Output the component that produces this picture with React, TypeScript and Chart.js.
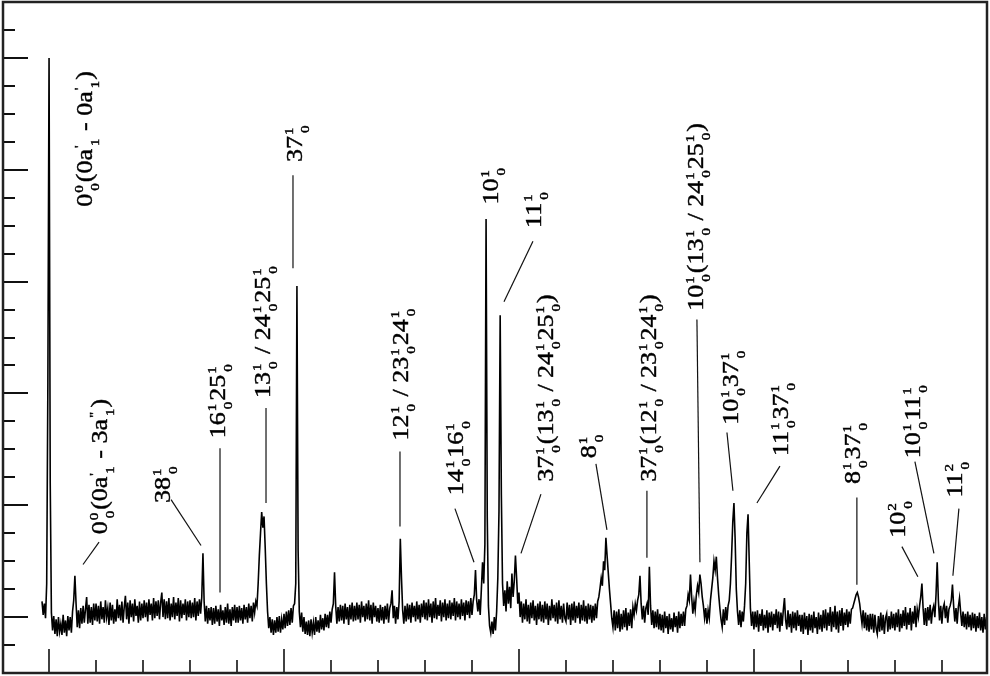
import { useEffect, useRef } from "react";
import { Chart, registerables } from "chart.js";

Chart.register(...registerables);

// Spectrum sampling (relative wavenumber, cm-1)
const SPEC_START = -15;
const SPEC_STEP = 2.5;
// Intensity values (arbitrary units, origin band = 5); one row = 50 cm-1
const spectrum: number[] = [
  0.14, 0.02, 0.12, -0.01, 0.30, 2.10,
  5.00, 1.20, 0.04, -0.12, 0.01, -0.15, -0.02, -0.17, 0.00, -0.13, -0.06, -0.16, 0.02, -0.14, -0.03, -0.17, 0.01, -0.12, 0.00, -0.14,
  0.05, 0.15, 0.37, 0.12, -0.09, 0.06, -0.10, 0.08, -0.06, 0.10, -0.05, 0.07, 0.18, -0.06, 0.11, -0.05, 0.09, -0.07, 0.12, -0.03,
  0.12, -0.04, 0.10, -0.06, 0.14, -0.02, 0.09, -0.05, 0.15, 0.00, 0.08, -0.07, 0.13, -0.03, 0.11, -0.06, 0.07, -0.04, 0.16, -0.01,
  0.11, -0.03, 0.14, -0.05, 0.09, 0.19, -0.02, 0.13, -0.06, 0.15, 0.00, 0.12, -0.04, 0.16, 0.01, 0.10, -0.05, 0.14, -0.03, 0.12,
  -0.01, 0.15, 0.00, 0.13, -0.04, 0.16, 0.02, 0.12, -0.03, 0.17, -0.01, 0.14, 0.01, 0.15, -0.02, 0.13, 0.22, 0.00, 0.16, -0.02,
  0.14, -0.01, 0.17, -0.03, 0.12, 0.00, 0.18, -0.02, 0.13, 0.01, 0.17, -0.04, 0.15, -0.01, 0.12, 0.02, 0.16, -0.03, 0.14, 0.00,
  0.15, -0.01, 0.13, 0.00, 0.17, -0.03, 0.14, 0.01, 0.16, 0.03, 0.18, 0.57, 0.14, -0.04, 0.10, -0.06, 0.08, -0.03, 0.09, -0.07,
  0.08, -0.06, 0.10, -0.04, 0.07, -0.08, 0.11, -0.03, 0.06, -0.07, 0.09, -0.05, 0.12, -0.06, 0.07, -0.08, 0.09, -0.03, 0.11, -0.05,
  0.09, -0.05, 0.10, -0.03, 0.08, -0.06, 0.11, -0.02, 0.09, -0.05, 0.12, -0.01, 0.10, -0.04, 0.13, 0.04, 0.14, 0.10, 0.30, 0.55,
  0.75, 0.94, 0.80, 0.90, 0.62, 0.30, 0.05, -0.10, 0.00, -0.14, -0.02, -0.16, -0.03, -0.14, 0.00, -0.13, 0.01, -0.14, -0.02, -0.11,
  0.03, -0.10, 0.05, -0.08, 0.06, -0.07, 0.08, -0.05, 0.10, 0.12, 0.30, 2.96, 0.60, 0.05, -0.09, 0.04, -0.13, 0.00, -0.15, -0.04,
  -0.16, -0.03, -0.17, -0.02, -0.14, -0.05, -0.16, 0.00, -0.13, -0.03, -0.14, 0.02, -0.11, -0.01, -0.12, 0.03, -0.09, 0.02, -0.10, 0.05,
  -0.05, 0.07, 0.12, 0.40, 0.10, -0.06, 0.09, -0.04, 0.11, -0.03, 0.10, -0.06, 0.12, -0.02, 0.09, -0.07, 0.11, -0.02, 0.13, -0.04,
  0.10, -0.03, 0.13, -0.02, 0.11, -0.05, 0.14, 0.00, 0.10, -0.04, 0.12, -0.02, 0.15, -0.03, 0.11, -0.06, 0.13, 0.00, 0.10, -0.04,
  0.08, -0.05, 0.11, -0.03, 0.09, -0.06, 0.10, -0.02, 0.12, -0.05, 0.08, 0.12, 0.24, -0.01, 0.10, -0.06, 0.09, -0.02, 0.14, 0.70,
  0.35, 0.06, -0.06, 0.10, -0.04, 0.12, -0.02, 0.11, -0.05, 0.13, 0.00, 0.10, -0.04, 0.14, -0.02, 0.11, -0.05, 0.12, 0.00, 0.15,
  -0.02, 0.13, -0.03, 0.16, 0.00, 0.12, -0.05, 0.14, -0.01, 0.17, -0.02, 0.11, 0.01, 0.15, -0.04, 0.13, 0.00, 0.16, -0.03, 0.12,
  -0.01, 0.15, -0.02, 0.13, 0.01, 0.17, -0.03, 0.14, 0.00, 0.12, -0.02, 0.16, 0.01, 0.13, -0.03, 0.15, 0.02, 0.14, -0.01, 0.17,
  0.02, 0.14, 0.20, 0.42, 0.15, 0.05, 0.16, 0.02, 0.25, 0.49, 0.30, 0.65, 3.56, 0.90, 0.10, -0.08, -0.14, -0.04, -0.15, 0.00,
  -0.12, 0.05, 0.35, 0.95, 2.70, 1.10, 0.30, 0.10, 0.24, 0.05, 0.32, 0.12, 0.27, 0.08, 0.39, 0.18, 0.32, 0.55, 0.35, 0.12,
  0.22, 0.00, 0.14, -0.05, 0.12, -0.02, 0.16, -0.04, 0.11, -0.06, 0.13, -0.01, 0.15, -0.03, 0.10, -0.07, 0.12, -0.02, 0.14, -0.04,
  0.11, -0.05, 0.14, -0.02, 0.12, -0.07, 0.10, -0.03, 0.16, -0.01, 0.11, -0.04, 0.13, -0.06, 0.15, -0.02, 0.10, -0.05, 0.12, -0.01,
  -0.04, 0.13, -0.02, 0.11, -0.07, 0.12, -0.03, 0.14, -0.05, 0.10, -0.01, 0.13, -0.06, 0.11, -0.03, 0.15, -0.04, 0.10, -0.06, 0.12,
  -0.02, 0.11, -0.05, 0.10, -0.03, 0.12, -0.01, 0.14, 0.18, 0.26, 0.35, 0.28, 0.50, 0.42, 0.71, 0.55, 0.40, 0.25, 0.12, -0.01,
  -0.09, 0.06, -0.12, 0.05, -0.10, 0.07, -0.13, 0.03, -0.11, 0.06, -0.09, 0.08, -0.12, 0.04, -0.08, 0.07, -0.10, 0.09, 0.02, 0.12,
  0.06, 0.15, 0.20, 0.37, 0.12, -0.02, 0.10, -0.05, 0.08, 0.12, 0.02, 0.45, 0.10, -0.07, 0.06, -0.10, 0.05, -0.09, 0.07, -0.11,
  0.03, -0.12, 0.02, -0.14, 0.05, -0.10, 0.01, -0.15, 0.03, -0.11, -0.01, -0.13, 0.04, -0.09, 0.01, -0.14, 0.05, -0.10, 0.03, -0.08,
  0.05, -0.08, 0.07, 0.10, 0.20, 0.15, 0.38, 0.18, 0.03, 0.14, 0.06, 0.20, 0.28, 0.22, 0.38, 0.30, 0.18, 0.10, -0.01, 0.08,
  -0.06, 0.06, -0.01, 0.15, 0.25, 0.35, 0.50, 0.42, 0.54, 0.35, 0.20, 0.08, -0.02, -0.09, 0.07, -0.07, 0.09, -0.03, 0.10, 0.15,
  0.30, 0.55, 0.85, 1.02, 0.70, 0.25, 0.05, -0.07, 0.06, -0.09, 0.05, -0.04, 0.10, 0.30, 0.75, 0.92, 0.50, 0.08, -0.08, 0.05,
  -0.11, 0.05, -0.09, 0.06, -0.13, 0.03, -0.08, 0.07, -0.12, 0.02, -0.10, 0.06, -0.14, 0.04, -0.09, 0.05, -0.12, 0.03, -0.07, 0.07,
  -0.10, 0.05, -0.13, 0.04, -0.08, 0.06, 0.17, -0.03, -0.11, 0.06, -0.09, 0.03, -0.14, 0.05, -0.10, 0.04, -0.12, 0.06, -0.08, 0.02,
  -0.13, 0.02, -0.15, 0.04, -0.11, 0.01, -0.16, 0.03, -0.12, 0.02, -0.14, 0.05, -0.10, 0.00, -0.15, 0.04, -0.11, 0.02, -0.13, 0.06,
  -0.10, 0.07, -0.12, 0.04, -0.08, 0.09, -0.13, 0.05, -0.09, 0.10, -0.11, 0.05, -0.14, 0.06, -0.08, 0.08, -0.12, 0.04, -0.07, 0.07,
  -0.09, 0.05, -0.06, 0.07, 0.08, 0.12, 0.16, 0.20, 0.22, 0.18, 0.12, 0.03, -0.06, 0.06, -0.10, 0.04, -0.12, 0.02, -0.13, 0.03,
  -0.11, 0.03, -0.14, 0.02, -0.10, -0.15, 0.01, -0.13, 0.04, -0.12, 0.02, -0.15, -0.01, 0.03, -0.13, 0.01, -0.11, 0.05, -0.10, 0.03,
  -0.12, 0.04, -0.09, 0.07, -0.13, 0.03, -0.10, 0.06, -0.08, 0.09, -0.11, 0.04, -0.07, 0.08, -0.12, 0.05, -0.06, 0.10, -0.09, 0.07,
  0.00, 0.10, 0.18, 0.30, 0.08, -0.07, 0.08, -0.08, 0.09, -0.03, 0.11, -0.06, 0.06, 0.10, 0.00, 0.20, 0.49, 0.15, -0.03, 0.10,
  -0.06, 0.08, 0.12, -0.01, 0.10, -0.05, 0.07, 0.10, 0.15, 0.29, 0.10, -0.04, 0.08, -0.06, 0.09, 0.17, 0.04, -0.08, 0.05, -0.09,
  0.03, -0.11, 0.05, -0.09, 0.02, -0.12, 0.04, -0.10, 0.03, -0.13, 0.01, -0.10, 0.04, -0.12, 0.00, -0.14, 0.03, -0.11, 0.00, -0.10,
];

// Axis ranges and tick spacing
const X_MIN = -98;
const X_MAX = 1996;
const Y_MIN = -0.5;
const Y_MAX = 5.5;
const X_MINOR = 100;
const X_MAJOR = 500;
const Y_MINOR = 0.25;
const Y_MAJOR = 1;

// Band assignments (^{..} superscript, _{..} subscript)
const labelTexts: string[] = [
  "0^{0}_{0}(0a^{'}_{1} - 0a^{'}_{1})",
  "0^{0}_{0}(0a^{'}_{1} - 3a^{\"}_{1})",
  "38^{1}_{0}",
  "16^{1}_{0}25^{1}_{0}",
  "13^{1}_{0} / 24^{1}_{0}25^{1}_{0}",
  "37^{1}_{0}",
  "12^{1}_{0} / 23^{1}_{0}24^{1}_{0}",
  "14^{1}_{0}16^{1}_{0}",
  "10^{1}_{0}",
  "11^{1}_{0}",
  "37^{1}_{0}(13^{1}_{0} / 24^{1}_{0}25^{1}_{0})",
  "8^{1}_{0}",
  "37^{1}_{0}(12^{1}_{0} / 23^{1}_{0}24^{1}_{0})",
  "10^{1}_{0}(13^{1}_{0} / 24^{1}_{0}25^{1}_{0})",
  "10^{1}_{0}37^{1}_{0}",
  "11^{1}_{0}37^{1}_{0}",
  "8^{1}_{0}37^{1}_{0}",
  "10^{2}_{0}",
  "10^{1}_{0}11^{1}_{0}",
  "11^{2}_{0}",
];
// Label anchor (text baseline start) in data units
const labelX: number[] = [91.5, 123.4, 257.4, 374.5, 470.2, 538.3, 763.8, 880.9, 955.3, 1046.8, 1072.3, 1163.8, 1291.5, 1391.5, 1466.0, 1572.3, 1725.5, 1821.3, 1853.2, 1942.6];
const labelY: number[] = [3.67, 0.74, 1.02, 1.60, 1.96, 4.07, 1.58, 1.09, 3.69, 3.48, 1.21, 1.42, 1.21, 2.74, 1.72, 1.44, 1.19, 0.71, 1.42, 1.07];
// Leader lines [x1, y1, x2, y2] in data units
const leaders: (number[] | null)[] = [
  null,
  [72.3, 0.47, 106.4, 0.67],
  [259.6, 1.05, 323.4, 0.64],
  [363.8, 1.51, 363.8, 0.22],
  [461.7, 1.87, 461.7, 1.02],
  [519.1, 3.95, 519.1, 3.12],
  [746.8, 1.48, 746.8, 0.81],
  [863.8, 0.97, 904.3, 0.49],
  null,
  [1029.8, 3.36, 968.1, 2.82],
  [1046.8, 1.10, 1004.3, 0.57],
  [1163.8, 1.37, 1187.2, 0.78],
  [1272.3, 1.13, 1272.3, 0.53],
  [1378.7, 2.66, 1385.1, 0.49],
  [1442.6, 1.65, 1455.3, 1.13],
  [1555.3, 1.35, 1506.4, 1.02],
  [1719.1, 1.07, 1719.1, 0.29],
  [1814.9, 0.63, 1848.9, 0.36],
  [1842.6, 1.39, 1883.0, 0.57],
  [1936.2, 0.97, 1923.4, 0.37],
];

const FONT_FAMILY = '"Liberation Serif", "Times New Roman", serif';
const FONT_SIZE = 26;
const SCRIPT_SIZE = 15;
const GLYPH_HEIGHT_SCALE = 0.85;

type Part = { t?: string; sup?: string; sub?: string };

function parseMarkup(s: string): Part[] {
  const out: Part[] = [];
  let i = 0;
  let buf = "";
  const readGroup = () => {
    const j = s.indexOf("}", i);
    const g = s.slice(i + 1, j);
    i = j + 1;
    return g;
  };
  while (i < s.length) {
    const c = s[i];
    if (c === "^" || c === "_") {
      if (buf) {
        out.push({ t: buf });
        buf = "";
      }
      const p: Part = {};
      while (i < s.length && (s[i] === "^" || s[i] === "_")) {
        const k = s[i];
        i++;
        const g = readGroup();
        if (k === "^") p.sup = g;
        else p.sub = g;
      }
      out.push(p);
    } else {
      buf += c;
      i++;
    }
  }
  if (buf) out.push({ t: buf });
  return out;
}

function drawText(ctx: CanvasRenderingContext2D, s: string, x: number, y: number) {
  ctx.fillText(s, x, y);
  ctx.strokeText(s, x, y);
}

const decorPlugin = {
  id: "decor",
  afterDraw(chart: any) {
    const ctx: CanvasRenderingContext2D = chart.ctx;
    const xs = chart.scales.x;
    const ys = chart.scales.y;
    const { left, right, top, bottom } = chart.chartArea;
    ctx.save();
    ctx.strokeStyle = "#111";
    ctx.fillStyle = "#000";

    // leader lines
    ctx.lineWidth = 1.2;
    leaders.forEach((l) => {
      if (!l) return;
      ctx.beginPath();
      ctx.moveTo(xs.getPixelForValue(l[0]), ys.getPixelForValue(l[1]));
      ctx.lineTo(xs.getPixelForValue(l[2]), ys.getPixelForValue(l[3]));
      ctx.stroke();
    });

    // labels
    labelTexts.forEach((txt, idx) => {
      const px = xs.getPixelForValue(labelX[idx]);
      const py = ys.getPixelForValue(labelY[idx]);
      const parts = parseMarkup(txt);
      ctx.save();
      ctx.translate(px, py);
      ctx.rotate(-Math.PI / 2);
      ctx.scale(1, GLYPH_HEIGHT_SCALE);
      ctx.textBaseline = "alphabetic";
      ctx.textAlign = "left";
      ctx.lineWidth = 0.5;
      ctx.strokeStyle = "#000";
      let x = 0;
      parts.forEach((p) => {
        if (p.t !== undefined) {
          ctx.font = `${FONT_SIZE}px ${FONT_FAMILY}`;
          drawText(ctx, p.t, x, 0);
          x += ctx.measureText(p.t).width;
        } else {
          ctx.font = `${SCRIPT_SIZE}px ${FONT_FAMILY}`;
          const wa = p.sup ? ctx.measureText(p.sup).width + 1 : 0;
          const wb = p.sub ? ctx.measureText(p.sub).width + 3 : 0;
          if (p.sup) drawText(ctx, p.sup, x + 1, -FONT_SIZE * 0.42);
          if (p.sub) drawText(ctx, p.sub, x + 3, FONT_SIZE * 0.32);
          x += Math.max(wa, wb) + 1;
        }
      });
      ctx.restore();
    });

    // y ticks (inside, from left border)
    ctx.lineWidth = 2;
    ctx.strokeStyle = "#111";
    for (let v = Math.ceil(Y_MIN / Y_MINOR) * Y_MINOR; v <= Y_MAX + 1e-9; v += Y_MINOR) {
      const py = Math.round(ys.getPixelForValue(v));
      if (py <= top + 2 || py >= bottom - 2) continue;
      const isMajor = Math.abs(v / Y_MAJOR - Math.round(v / Y_MAJOR)) < 1e-6;
      ctx.beginPath();
      ctx.moveTo(left, py);
      ctx.lineTo(left + (isMajor ? 25 : 12), py);
      ctx.stroke();
    }
    // x ticks (inside, from bottom border)
    ctx.lineWidth = 1.6;
    for (let v = Math.ceil(X_MIN / X_MINOR) * X_MINOR; v <= X_MAX; v += X_MINOR) {
      const px = Math.round(xs.getPixelForValue(v));
      if (px <= left + 2 || px >= right - 2) continue;
      const isMajor = v % X_MAJOR === 0;
      ctx.beginPath();
      ctx.moveTo(px, bottom);
      ctx.lineTo(px, bottom - (isMajor ? 24 : 13));
      ctx.stroke();
    }

    // frame
    ctx.lineWidth = 2.5;
    ctx.strokeStyle = "#222";
    ctx.strokeRect(left, top, right - left, bottom - top);
    ctx.restore();
  },
};

export default function App() {
  const canvasRef = useRef<HTMLCanvasElement | null>(null);

  useEffect(() => {
    const canvas = canvasRef.current;
    if (!canvas) return;
    const points = spectrum.map((v, i) => ({ x: SPEC_START + i * SPEC_STEP, y: v }));
    const chart = new Chart(canvas, {
      type: "line",
      data: {
        datasets: [
          {
            data: points,
            borderColor: "#000",
            borderWidth: 1.6,
            pointRadius: 0,
            tension: 0,
            fill: false,
          },
        ],
      },
      options: {
        animation: false,
        responsive: false,
        devicePixelRatio: 1,
        layout: { padding: { left: 3, right: 3, top: 2, bottom: 3 } },
        plugins: { legend: { display: false }, tooltip: { enabled: false } },
        scales: {
          x: { type: "linear", min: X_MIN, max: X_MAX, display: false },
          y: { type: "linear", min: Y_MIN, max: Y_MAX, display: false },
        },
      },
      plugins: [decorPlugin],
    });
    return () => chart.destroy();
  }, []);

  return (
    <div style={{ position: "fixed", left: 0, top: 0, width: 990, height: 676, background: "#fff" }}>
      <canvas ref={canvasRef} width={990} height={676} />
    </div>
  );
}
